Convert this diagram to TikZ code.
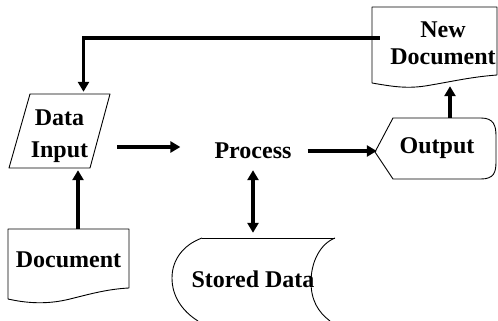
\documentclass[tikz,border=0pt]{standalone}
\usepackage{fontspec}
\setmainfont{Liberation Serif}
\usetikzlibrary{arrows.meta}
\begin{document}
\begin{tikzpicture}[x=1pt,y=-1pt,
  shapeline/.style={draw=black,line width=0.9pt,line join=round},
  lbl/.style={inner sep=0pt,align=center,font=\fontsize{24}{28}\selectfont\bfseries},
  arr/.style={line width=3.2pt,-{Triangle[length=10pt,width=11pt]}},
  darr/.style={line width=3.2pt,arrows={Triangle[length=10pt,width=11pt]-Triangle[length=10pt,width=11pt]}}]
\useasboundingbox[fill=white] (0,0) rectangle (498,321);

% nodes
\node[lbl,minimum width=101pt,minimum height=74pt] (din) at (59.5,136) {Data\\[4pt]Input};
\node[lbl,minimum width=121pt,minimum height=62pt] (doc) at (68.5,260) {Document};
\node[lbl] (proc) at (253,151) {Process};
\node[lbl,minimum width=120pt,minimum height=61pt] (out) at (437,148.5) {Output};
\node[lbl,minimum width=126pt,minimum height=76pt,font=\fontsize{24}{27}\selectfont\bfseries] (newdoc) at (443,43) {New\\Document};
\node[lbl,minimum height=83pt] (stored) at (253,279.5) {Stored Data};

% shapes
\draw[shapeline] (30,94) -- (110,94) -- (90,168) -- (9,168) -- cycle;
\draw[shapeline] (8,299) -- (8,229) -- (129,229) -- (129,288)
  .. controls (108,289) and (90,294) .. (70,299)
  .. controls (50,304) and (30,304) .. (8,299);
\draw[shapeline] (375,152) -- (393,118) -- (481,118)
  .. controls (494,118) and (496,126) .. (496,136) -- (496,162)
  .. controls (496,172) and (494,179) .. (481,179) -- (393,179) -- cycle;
\draw[shapeline] (497,75) .. controls (470,77) and (450,82) .. (425,86)
  .. controls (405,89) and (390,86) .. (372,83) -- (372,7) -- (497,7) -- cycle;
\draw[shapeline] (202,238) -- (335,238);
\draw[shapeline] (202,238) .. controls (183,245) and (172,260) .. (172,278)
  .. controls (172,296) and (182,311) .. (198,321);
\draw[shapeline] (335,238) .. controls (320,244) and (311,262) .. (311,282)
  .. controls (311,300) and (318,312) .. (330,321);

% connectors
\draw[arr] ([shift={(9.5,0)}]doc.north) -- ([shift={(18.5,-3)}]din.south);
\draw[arr] ([shift={(7,11)}]din.east) -- ([shift={(-34,-4)}]proc.west);
\draw[arr] ([shift={(16,0)}]proc.east) -- (proc.east -| out.west);
\draw[arr] ([shift={(13,0)}]out.north) -- ([shift={(7,5)}]newdoc.south);
\draw[arr,line join=miter] ([shift={(0,-5)}]newdoc.west) -| ([shift={(24,-7)}]din.north);
\draw[darr] ([shift={(0,11)}]proc.south) -- ([shift={(0,-5)}]stored.north);
\end{tikzpicture}
\end{document}
